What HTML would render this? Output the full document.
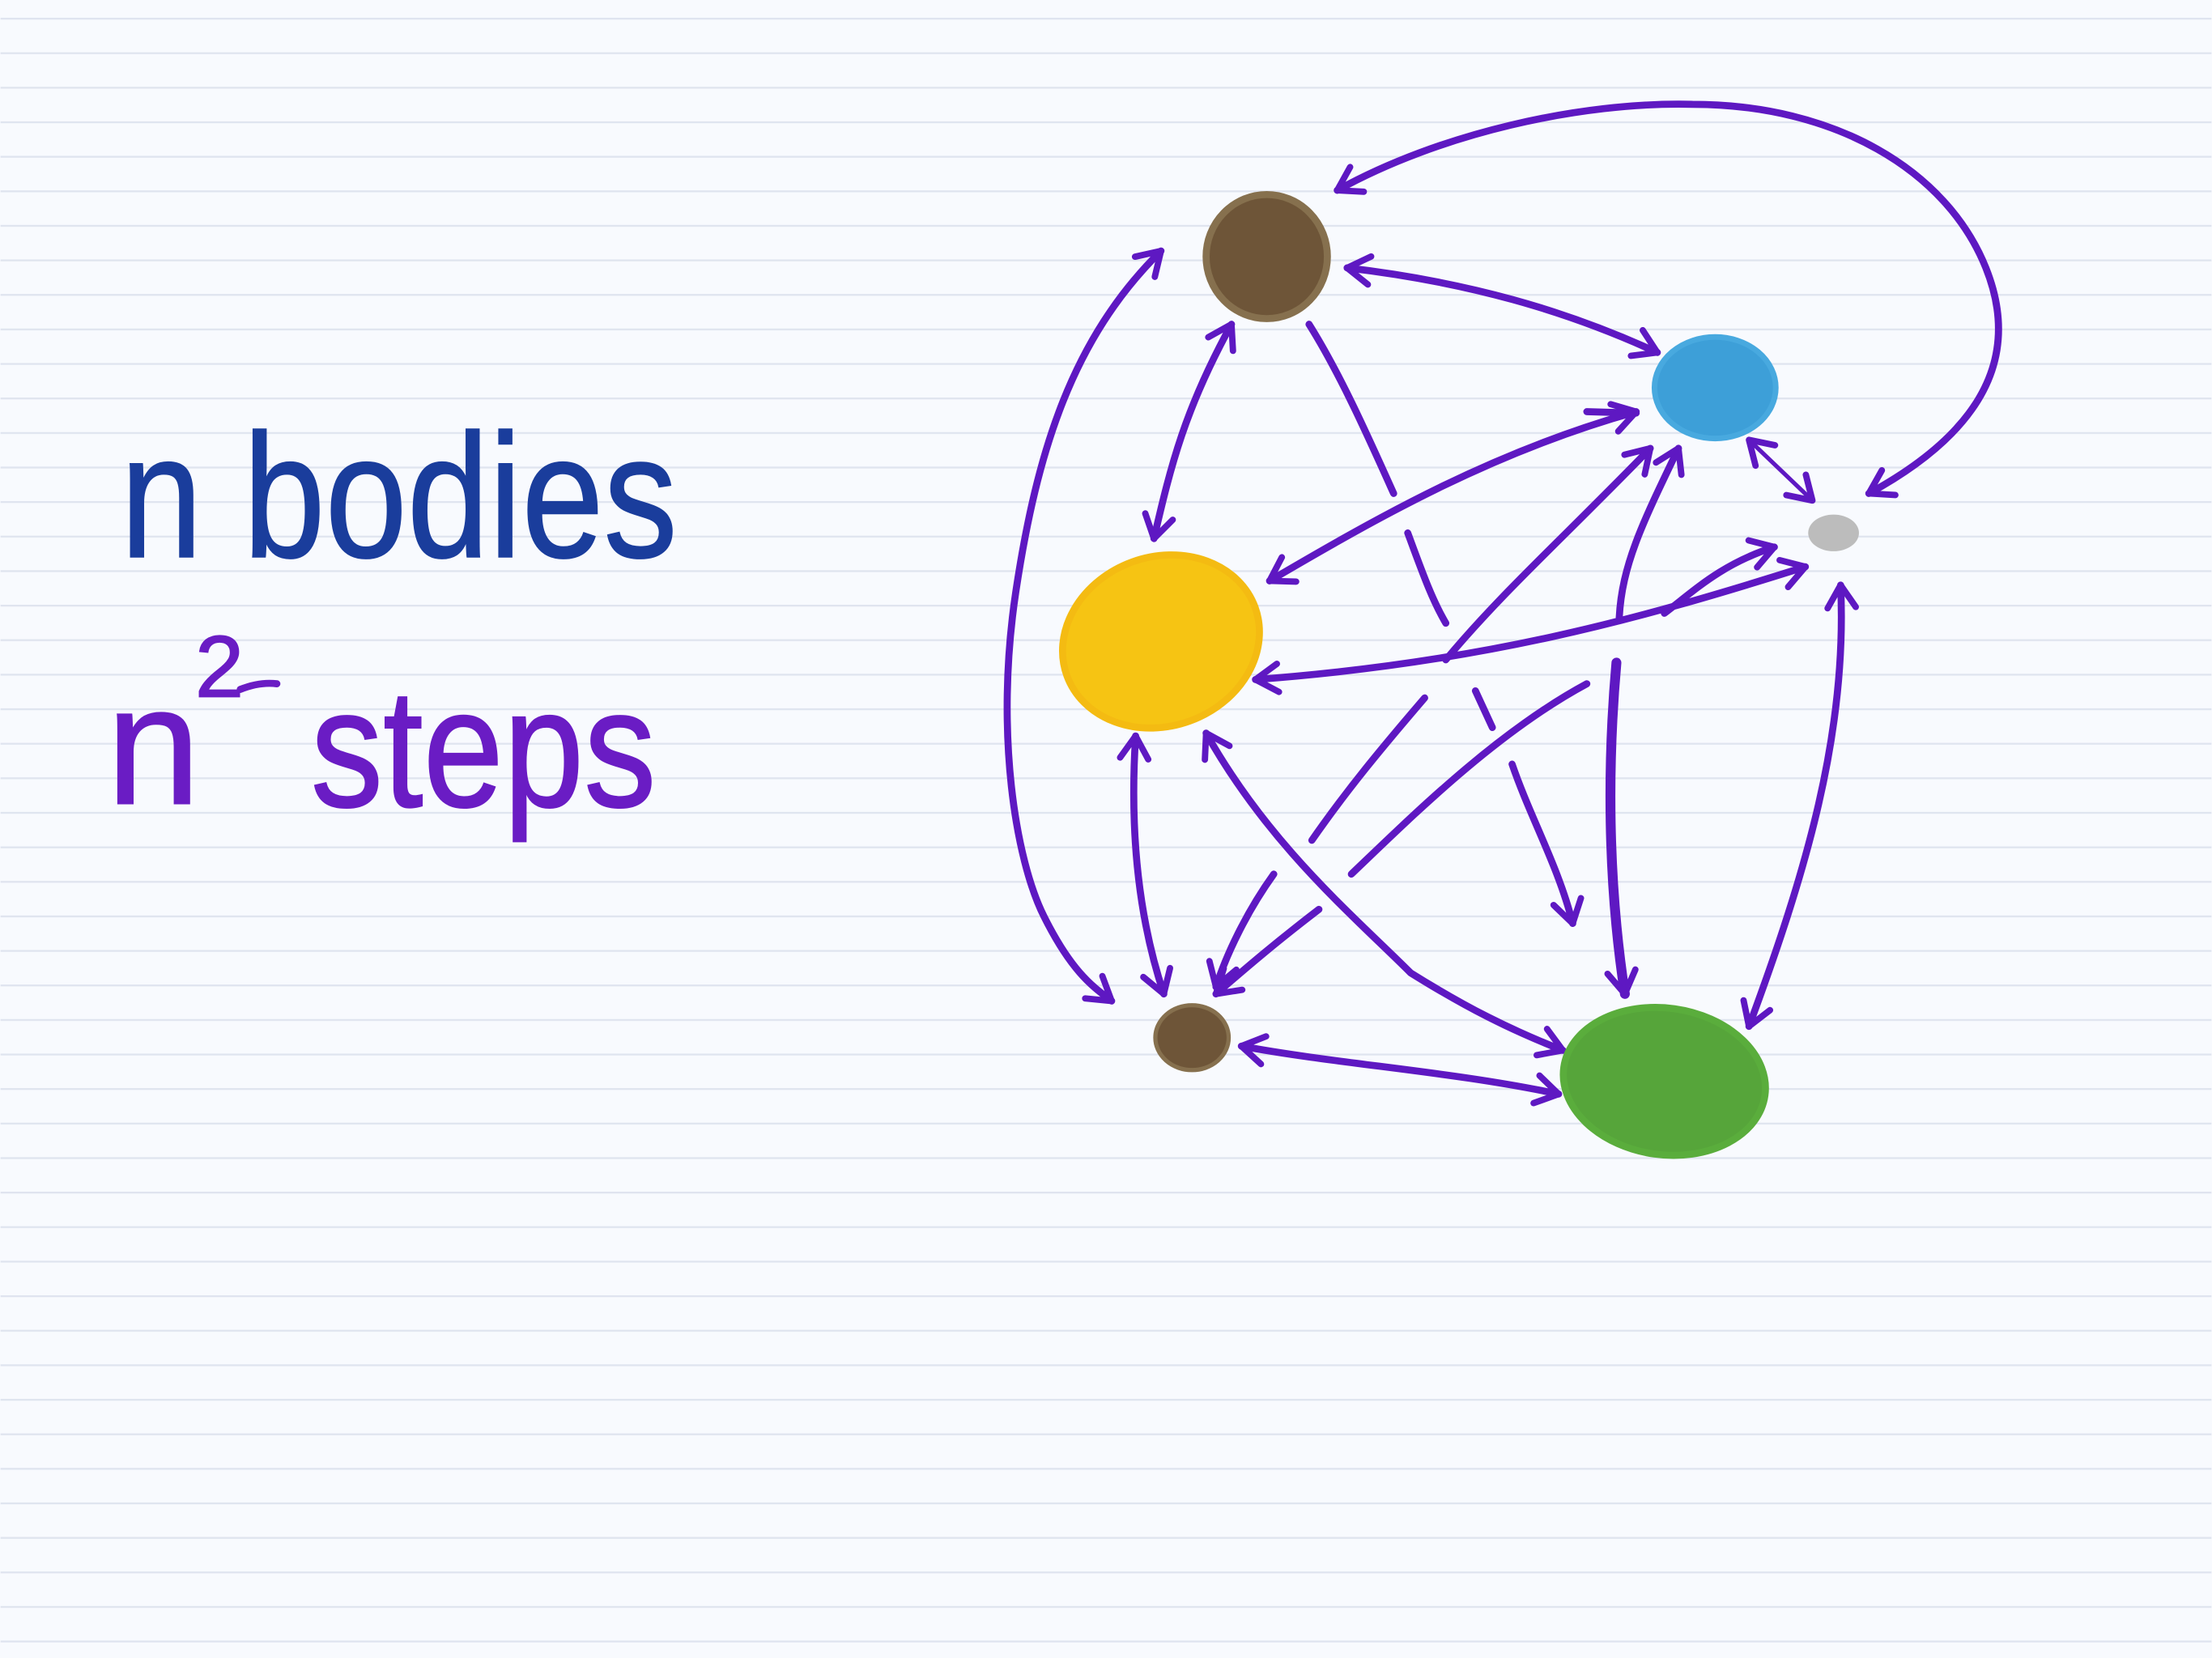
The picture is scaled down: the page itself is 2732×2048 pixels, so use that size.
<!DOCTYPE html>
<html><head><meta charset="utf-8"><style>
html,body{margin:0;padding:0;background:#f8fafe;}
svg{display:block;}
</style></head><body>
<svg width="2732" height="2048" viewBox="0 0 1568 1176" xmlns="http://www.w3.org/2000/svg">
<defs>
<pattern id="lines" x="0" y="12.6" width="1568" height="24.49" patternUnits="userSpaceOnUse">
<rect x="0" y="0" width="1568" height="1.3" fill="#dfe4ef"/>
</pattern>
<marker id="ah" viewBox="-20 -14 24 28" markerWidth="24" markerHeight="28" refX="0" refY="0" orient="auto-start-reverse" markerUnits="userSpaceOnUse">
<path d="M-16,-10 L0,0 L-16,10" fill="none" stroke="#5e18c2" stroke-width="4.5" stroke-linecap="round" stroke-linejoin="round"/>
</marker>
</defs>
<rect width="1568" height="1176" fill="#f8fafe"/>
<rect width="1568" height="1176" fill="url(#lines)"/>

<text x="85" y="395" font-family="Liberation Sans, sans-serif" font-size="125" fill="#1a3d9c" stroke="#1a3d9c" stroke-width="1" textLength="395" lengthAdjust="spacingAndGlyphs">n bodies</text>
<text x="75" y="570" font-family="Liberation Sans, sans-serif" font-size="120" fill="#6a1cc4" stroke="#6a1cc4" stroke-width="1">n</text>
<text x="138" y="494" font-family="Liberation Sans, sans-serif" font-size="62" fill="#6a1cc4" stroke="#6a1cc4" stroke-width="1">2</text>
<path d="M170,489 C180,485 188,484 196,485" fill="none" stroke="#6a1cc4" stroke-width="5" stroke-linecap="round"/>
<text x="220" y="572" font-family="Liberation Sans, sans-serif" font-size="120" fill="#6a1cc4" stroke="#6a1cc4" stroke-width="1" textLength="245" lengthAdjust="spacingAndGlyphs">steps</text>

<g fill="none" stroke="#5e18c2" stroke-width="5" stroke-linecap="round">
<path d="M948,135 C1020,95 1120,72 1200,74 C1300,74 1380,120 1408,190 C1440,270 1380,320 1325,350" marker-start="url(#ah)" marker-end="url(#ah)"/>
<path d="M955,190 C1040,200 1110,220 1175,250" marker-start="url(#ah)" marker-end="url(#ah)"/>
<path d="M873,230 C840,290 830,330 818,382" marker-start="url(#ah)" marker-end="url(#ah)"/>
<path d="M823,178 C760,240 735,320 720,420 C705,520 720,610 740,650 C760,690 775,700 788,710" marker-start="url(#ah)" marker-end="url(#ah)"/>
<path d="M928,230 C950,265 970,310 988,350"/>
<path d="M998,378 C1008,405 1015,425 1025,442"/>
<path d="M1046,490 L1058,516"/>
<path d="M1072,542 C1085,580 1105,615 1115,655" marker-end="url(#ah)"/>
<path d="M1160,292 C1060,320 980,365 900,412" marker-start="url(#ah)" marker-end="url(#ah)"/>
<path d="M1125,292 L1160,293"/>
<path d="M1170,318 C1110,380 1065,420 1025,468" marker-start="url(#ah)"/>
<path d="M1010,495 C980,530 955,560 930,596"/>
<path d="M903,620 C885,645 870,675 862,700" marker-end="url(#ah)"/>
<path d="M1190,318 C1165,370 1150,400 1148,438" marker-start="url(#ah)"/>
<path d="M1146,470 C1138,560 1142,640 1152,705" stroke-width="7" marker-end="url(#ah)"/>
<path d="M1240,312 L1285,355" stroke-width="3" marker-start="url(#ah)" marker-end="url(#ah)"/>
<path d="M1280,402 C1160,440 1050,470 890,482" marker-start="url(#ah)" marker-end="url(#ah)"/>
<path d="M1258,388 C1220,400 1200,420 1180,435" marker-start="url(#ah)"/>
<path d="M1125,485 C1060,520 1000,580 958,620"/>
<path d="M935,645 C905,668 885,685 862,705" marker-end="url(#ah)"/>
<path d="M1305,415 C1310,520 1280,620 1240,728" marker-start="url(#ah)" marker-end="url(#ah)"/>
<path d="M805,522 C800,600 810,660 825,705" marker-start="url(#ah)" marker-end="url(#ah)"/>
<path d="M855,520 C900,600 960,650 1000,690 C1040,715 1070,730 1108,745" marker-start="url(#ah)" marker-end="url(#ah)"/>
<path d="M880,742 C950,755 1030,760 1105,776" marker-start="url(#ah)" marker-end="url(#ah)"/>
</g>

<ellipse cx="898" cy="182" rx="43" ry="44" fill="#6e5538" stroke="#86704e" stroke-width="5"/>
<ellipse cx="1216" cy="275" rx="43" ry="36" fill="#3d9fd8" stroke="#48a9df" stroke-width="4"/>
<ellipse cx="1300" cy="378" rx="18" ry="13" fill="#bcbcbc"/>
<ellipse cx="823" cy="455" rx="71" ry="60" fill="#f6c413" stroke="#f4bb12" stroke-width="5" transform="rotate(-20 823 455)"/>
<ellipse cx="845" cy="736" rx="26" ry="23" fill="#6e5538" stroke="#86704e" stroke-width="3"/>
<ellipse cx="1180" cy="767" rx="72" ry="52" fill="#56a53a" stroke="#5aad3c" stroke-width="5" transform="rotate(8 1180 767)"/>
</svg>
</body></html>
